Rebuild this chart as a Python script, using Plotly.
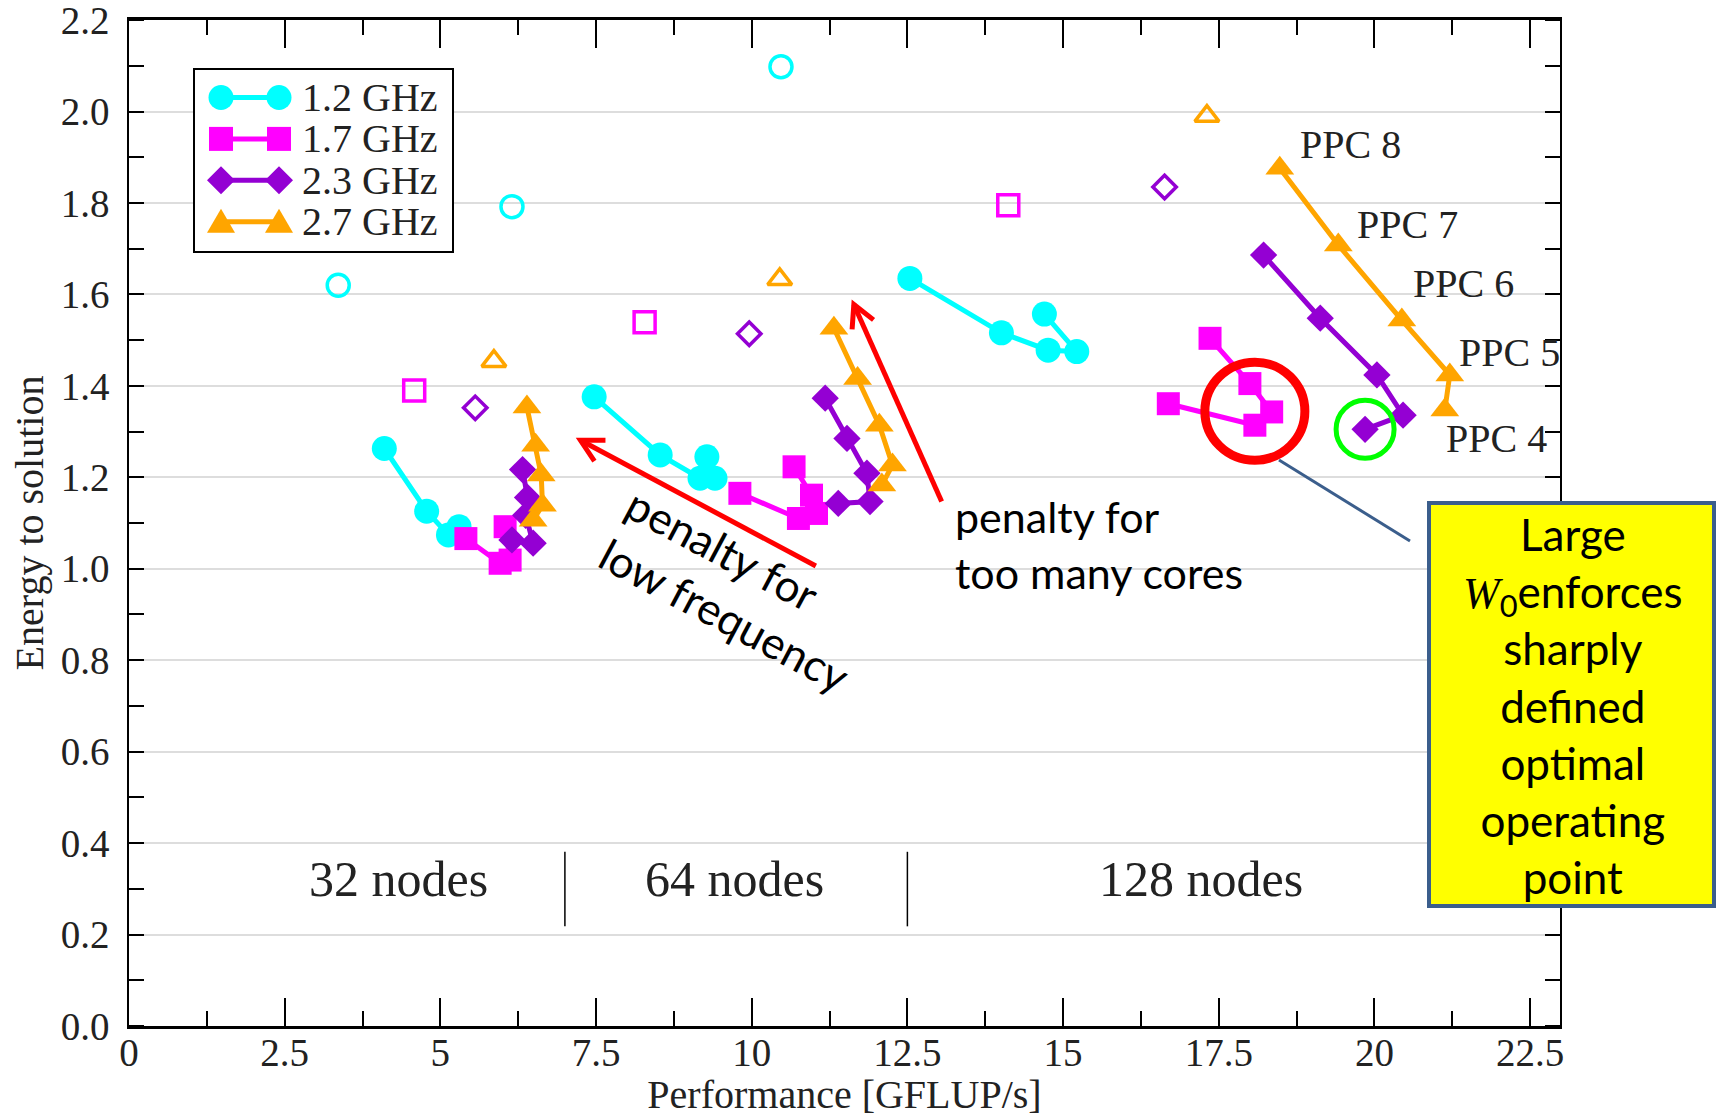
import math
import plotly.graph_objects as go

SERIF = "Liberation Serif, Times New Roman, serif"
SANS = "Lato, Carlito, Calibri, sans-serif"
TXT = "#222222"

# ---------------- data ----------------
freq_labels = ["1.2 GHz", "1.7 GHz", "2.3 GHz", "2.7 GHz"]
colors = ["#00FFFF", "#FF00FF", "#9400D3", "#FFA500"]
symbols = ["circle", "square", "diamond", "triangle-up"]
node_labels = ["32 nodes", "64 nodes", "128 nodes"]
node_label_x = [4.33, 9.73, 17.22]
node_boundaries = [7.0, 12.5]
ppc_labels = ["PPC 8", "PPC 7", "PPC 6", "PPC 5", "PPC 4"]

# each list: node groups 32 / 64 / 128, points ordered PPC 8 -> PPC 4
perf_12 = [[4.10, 4.78, 5.13, 5.30],
           [7.47, 8.53, 9.17, 9.41, 9.28],
           [12.54, 14.01, 14.76, 15.22, 14.70]]
energy_12 = [[1.263, 1.126, 1.074, 1.092],
             [1.376, 1.249, 1.198, 1.198, 1.245],
             [1.635, 1.516, 1.478, 1.475, 1.557]]

perf_17 = [[6.04, 6.12, 5.96, 5.41],
           [10.68, 10.96, 11.04, 10.75, 9.81],
           [17.36, 18.00, 18.35, 18.08, 16.69]]
energy_17 = [[1.092, 1.019, 1.012, 1.066],
             [1.223, 1.161, 1.121, 1.110, 1.165],
             [1.504, 1.405, 1.343, 1.314, 1.361]]

perf_23 = [[6.32, 6.40, 6.37, 6.49, 6.15],
           [11.18, 11.53, 11.85, 11.90, 11.39],
           [18.22, 19.13, 20.04, 20.46, 19.85]]
energy_23 = [[1.217, 1.156, 1.117, 1.056, 1.063],
             [1.373, 1.285, 1.209, 1.147, 1.143],
             [1.686, 1.548, 1.424, 1.336, 1.305]]

perf_27 = [[6.39, 6.53, 6.62, 6.64, 6.49],
           [11.32, 11.70, 12.05, 12.26, 12.09],
           [18.48, 19.42, 20.44, 21.21, 21.13]]
energy_27 = [[1.354, 1.270, 1.205, 1.139, 1.106],
             [1.526, 1.416, 1.314, 1.227, 1.183],
             [1.876, 1.708, 1.544, 1.424, 1.347]]

# open symbols (one per node group)
open_perf_12 = [3.36, 6.15, 10.47]
open_energy_12 = [1.620, 1.792, 2.098]
open_perf_17 = [4.58, 8.28, 14.12]
open_energy_17 = [1.390, 1.539, 1.795]
open_perf_23 = [5.56, 9.96, 16.63]
open_energy_23 = [1.352, 1.514, 1.835]
open_perf_27 = [5.86, 10.45, 17.31]
open_energy_27 = [1.454, 1.633, 1.990]

# PPC label anchors (left edge, middle)
ppc_label_x = [18.77, 19.68, 20.58, 21.32, 21.11]
ppc_label_y = [1.928, 1.753, 1.623, 1.473, 1.286]

# red arrows: (tail x, tail y, head x, head y)
arrow_low_freq = (11.03, 1.006, 7.25, 1.281)
arrow_many_cores = (13.05, 1.147, 11.64, 1.578)

x_ticks = [0, 2.5, 5, 7.5, 10, 12.5, 15, 17.5, 20, 22.5]
x_tick_text = ["0", "2.5", "5", "7.5", "10", "12.5", "15", "17.5", "20", "22.5"]
y_ticks = [0.0, 0.2, 0.4, 0.6, 0.8, 1.0, 1.2, 1.4, 1.6, 1.8, 2.0, 2.2]

box_lines = ["Large",
             "<span style=\"font-family:Liberation Serif\"><i>W</i></span><sub>0</sub>enforces",
             "sharply", "defined", "optimal", "operating", "point"]

# ---------------- layout geometry (pixels) ----------------
W, H = 1717, 1117
ML, MR, MT, MB = 129, 157, 20, 91
PW, PH = W - ML - MR, H - MT - MB
X_RANGE = [0, 22.98]
Y_RANGE = [0, 2.2002]


def px_x(X):
    return (X - ML) / PW


def px_y(Y):
    return (H - MB - Y) / PH


# ---------------- figure ----------------
fig = go.Figure()

series = [
    (perf_12, energy_12, open_perf_12, open_energy_12),
    (perf_17, energy_17, open_perf_17, open_energy_17),
    (perf_23, energy_23, open_perf_23, open_energy_23),
    (perf_27, energy_27, open_perf_27, open_energy_27),
]


def joined(groups):
    out = []
    for i, g in enumerate(groups):
        if i:
            out.append(None)
        out.extend(g)
    return out


marker_sizes = [25, 23, 21, 25]
open_sizes = [22, 21, 18, 21]
for i, (px, py, ox, oy) in enumerate(series):
    fig.add_trace(go.Scatter(
        x=ox, y=oy, mode="markers", showlegend=False, name=freq_labels[i],
        marker=dict(symbol=symbols[i] + "-open", size=open_sizes[i],
                    color=colors[i], line=dict(width=3.5, color=colors[i])),
        hoverinfo="skip"))
for i, (px, py, ox, oy) in enumerate(series):
    fig.add_trace(go.Scatter(
        x=joined(px), y=joined(py), mode="lines+markers", name=freq_labels[i],
        showlegend=False,
        line=dict(color=colors[i], width=5),
        marker=dict(symbol=symbols[i], size=marker_sizes[i], color=colors[i],
                    line=dict(width=0)),
        connectgaps=False))

annotations = []
shapes = []

# ---- custom legend (marker - line - marker samples) ----
LEG_BOX = (194, 69, 453, 252)
LEG_ROW0, LEG_DY = 97.5, 41.4
LEG_L, LEG_R, LEG_TXT = 221, 279, 300
shapes.append(dict(type="rect", xref="paper", yref="paper",
                   x0=px_x(LEG_BOX[0]), x1=px_x(LEG_BOX[2]),
                   y0=px_y(LEG_BOX[3]), y1=px_y(LEG_BOX[1]),
                   fillcolor="white", line=dict(color="black", width=2), layer="above"))
marker_paths = {
    "diamond": "M0,14 L14,0 L0,-14 L-14,0 Z",
    "triangle-up": "M-14,-11 L14,-11 L0,13 Z",
}
for i, lab in enumerate(freq_labels):
    yy = px_y(LEG_ROW0 + i * LEG_DY)
    shapes.append(dict(type="line", xref="paper", yref="paper",
                       x0=px_x(LEG_L), x1=px_x(LEG_R), y0=yy, y1=yy,
                       line=dict(color=colors[i], width=5), layer="above"))
    for xe in (LEG_L, LEG_R):
        base = dict(xref="paper", yref="paper", xsizemode="pixel", ysizemode="pixel",
                    xanchor=px_x(xe), yanchor=yy, fillcolor=colors[i],
                    line=dict(width=0), layer="above")
        if symbols[i] == "circle":
            base.update(type="circle", x0=-12.5, x1=12.5, y0=-12.5, y1=12.5)
        elif symbols[i] == "square":
            base.update(type="rect", x0=-12, x1=12, y0=-12, y1=12)
        else:
            base.update(type="path", path=marker_paths[symbols[i]])
        shapes.append(base)
    annotations.append(dict(x=px_x(LEG_TXT), y=yy, xref="paper", yref="paper", text=lab,
                            showarrow=False, xanchor="left", yanchor="middle",
                            font=dict(family=SERIF, size=40, color=TXT)))

# PPC labels
for t, x, y in zip(ppc_labels, ppc_label_x, ppc_label_y):
    annotations.append(dict(x=x, y=y, xref="x", yref="y", text=t, showarrow=False,
                            xanchor="left", yanchor="middle",
                            font=dict(family=SERIF, size=40, color=TXT)))
# node labels
for t, x in zip(node_labels, node_label_x):
    annotations.append(dict(x=x, y=0.321, xref="x", yref="y", text=t, showarrow=False,
                            xanchor="center", yanchor="middle",
                            font=dict(family=SERIF, size=50, color=TXT)))


# red arrows as shapes: shaft + open chevron head
def add_arrow(tx, ty, hx, hy, color="#FF0000", width=5, head_len=25, half_angle=28):
    shapes.append(dict(type="line", xref="x", yref="y", x0=tx, y0=ty, x1=hx, y1=hy,
                       line=dict(color=color, width=width), layer="above"))
    # direction head -> tail in screen pixels (y up)
    dx = (tx - hx) * PW / (X_RANGE[1] - X_RANGE[0])
    dy = (ty - hy) * PH / (Y_RANGE[1] - Y_RANGE[0])
    ang = math.atan2(dy, dx)
    pts = []
    for s in (1, -1):
        a = ang + s * math.radians(half_angle)
        pts.append((head_len * math.cos(a), head_len * math.sin(a)))
    path = "M{:.2f},{:.2f} L0,0 L{:.2f},{:.2f}".format(pts[0][0], pts[0][1],
                                                         pts[1][0], pts[1][1])
    shapes.append(dict(type="path", xref="x", yref="y", xsizemode="pixel",
                       ysizemode="pixel", xanchor=hx, yanchor=hy, path=path,
                       line=dict(color=color, width=width), layer="above"))


add_arrow(*arrow_low_freq)
add_arrow(*arrow_many_cores)

annotations.append(dict(x=9.78, y=0.955, xref="x", yref="y", showarrow=False,
                        xanchor="center", yanchor="middle", align="left",
                        text="penalty for<br>low frequency", textangle=28,
                        font=dict(family=SANS, size=44, color="black")))
annotations.append(dict(x=13.23, y=1.052, xref="x", yref="y", showarrow=False,
                        xanchor="left", yanchor="middle", align="left",
                        text="penalty for<br>too many cores",
                        font=dict(family=SANS, size=43, color="black")))
# yellow box text
annotations.append(dict(x=px_x(1573), y=px_y(706), xref="paper", yref="paper",
                        showarrow=False, xanchor="center", yanchor="middle",
                        text="<br>".join(box_lines), align="center",
                        font=dict(family=SANS, size=44, color="black")))

for b in node_boundaries:
    shapes.append(dict(type="line", xref="x", yref="y", x0=b, x1=b, y0=0.218, y1=0.381,
                       line=dict(color="black", width=1.5)))
# red circle around chosen 1.7 GHz point, green around 2.3 GHz PPC 4 point
shapes.append(dict(type="circle", xref="x", yref="y", xsizemode="pixel", ysizemode="pixel",
                   xanchor=perf_17[2][3], yanchor=energy_17[2][3],
                   x0=-50, x1=50, y0=-35, y1=63,
                   line=dict(color="#FF0000", width=9), layer="above"))
shapes.append(dict(type="circle", xref="x", yref="y", xsizemode="pixel", ysizemode="pixel",
                   xanchor=perf_23[2][4], yanchor=energy_23[2][4],
                   x0=-29, x1=29, y0=-29, y1=29,
                   line=dict(color="#00FF00", width=5), layer="above"))
# connector & yellow box
shapes.append(dict(type="line", xref="paper", yref="paper", x0=px_x(1279), y0=px_y(460),
                   x1=px_x(1410), y1=px_y(541), line=dict(color="#3B5E8C", width=3),
                   layer="above"))
shapes.append(dict(type="rect", xref="paper", yref="paper", x0=px_x(1429), x1=px_x(1714),
                   y0=px_y(906), y1=px_y(503), fillcolor="#FFFF00",
                   line=dict(color="#3B5E8C", width=4), layer="above"))

fig.update_layout(
    width=W, height=H,
    margin=dict(l=ML, r=MR, t=MT, b=MB),
    paper_bgcolor="white", plot_bgcolor="white",
    font=dict(family=SERIF, size=39, color=TXT),
    showlegend=False,
    annotations=annotations,
    shapes=shapes,
)

fig.update_xaxes(
    range=X_RANGE, tickvals=x_ticks, ticktext=x_tick_text,
    ticks="inside", ticklen=28, tickwidth=1.5, tickcolor="black",
    minor=dict(ticks="inside", ticklen=15, dtick=1.25, tick0=0, tickwidth=1.5,
               tickcolor="black", showgrid=False),
    showline=True, linecolor="black", linewidth=2.5, mirror="ticks",
    showgrid=False, zeroline=False, ticklabelstandoff=-10,
    ticklabeloverflow="allow",
    tickfont=dict(family=SERIF, size=39, color=TXT),
    title=dict(text="Performance [GFLUP/s]", standoff=8,
               font=dict(family=SERIF, size=40, color=TXT)),
    automargin=False,
)
fig.update_yaxes(
    range=Y_RANGE, tickvals=y_ticks, tickformat=".1f",
    ticks="", showgrid=True, gridcolor="#DDDDDD", gridwidth=2,
    minor=dict(ticks="inside", ticklen=15, dtick=0.1, tick0=0, tickwidth=2,
               tickcolor="black", showgrid=False),
    showline=True, linecolor="black", linewidth=1.5, mirror="ticks",
    zeroline=False, ticklabelstandoff=10, ticklabeloverflow="allow",
    tickfont=dict(family=SERIF, size=39, color=TXT),
    title=dict(text="Energy to solution", standoff=5,
               font=dict(family=SERIF, size=40, color=TXT)),
    automargin=False,
)

fig.write_html("out.html")
